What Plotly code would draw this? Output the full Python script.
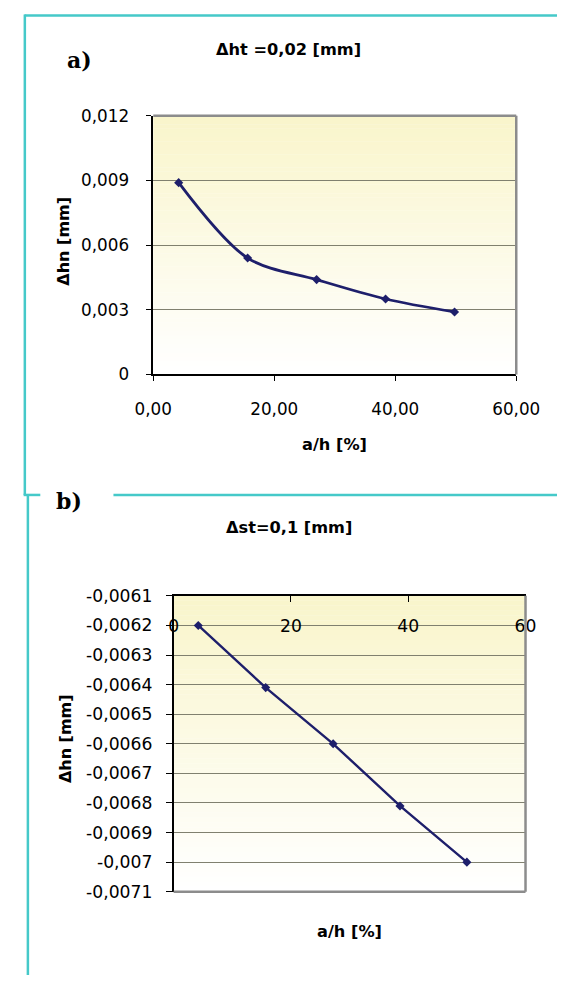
import plotly.graph_objects as go

# ---------------- data ----------------
x_a = [4.2, 15.6, 27.0, 38.4, 49.8]
y_a = [0.0089, 0.0054, 0.0044, 0.0035, 0.0029]

x_b = [4.2, 15.7, 27.2, 38.6, 50.0]
y_b = [-0.00620, -0.00641, -0.00660, -0.00681, -0.00700]

xticks_a_vals = [0, 20, 40, 60]
xticks_a_text = ["0,00", "20,00", "40,00", "60,00"]
yticks_a_vals = [0, 0.003, 0.006, 0.009, 0.012]
yticks_a_text = ["0", "0,003", "0,006", "0,009", "0,012"]

xticks_b_vals = [0, 20, 40, 60]
xticks_b_text = ["0", "20", "40", "60"]
yticks_b_vals = [-0.0071, -0.0070, -0.0069, -0.0068, -0.0067, -0.0066,
                 -0.0065, -0.0064, -0.0063, -0.0062, -0.0061]
yticks_b_text = ["-0,0071", "-0,007", "-0,0069", "-0,0068", "-0,0067", "-0,0066",
                 "-0,0065", "-0,0064", "-0,0063", "-0,0062", "-0,0061"]

title_a = "Δht =0,02 [mm]"
title_b = "Δst=0,1 [mm]"
ytitle = "Δhn [mm]"
xtitle = "a/h [%]"

# ---------------- style ----------------
W, H = 581, 985
NAVY = "#1e1f6b"
TEAL = "#45c9c9"
GRID = "#80806f"
BORDER = "#8c8c8c"
FONT = "DejaVu Sans, Arial, sans-serif"
SERIF = "DejaVu Serif, Times New Roman, serif"
TICKFONT = dict(family=FONT, size=16.8, color="black")
TICKFONT_B = dict(family=FONT, size=17.2, color="black")
TITLEFONT = dict(family=FONT, size=16.2, color="black", weight="bold")
YTITLEFONT = dict(family=FONT, size=16, color="black", weight="bold")


def px(x):
    return x / W


def py(y):
    return 1 - y / H


fig = go.Figure()
fig.add_trace(go.Scatter(
    x=x_a, y=y_a, mode="lines+markers", xaxis="x", yaxis="y",
    line=dict(color=NAVY, width=2.8, shape="spline", smoothing=0.9),
    marker=dict(symbol="diamond", size=7, color=NAVY),
    showlegend=False, hoverinfo="skip"))
fig.add_trace(go.Scatter(
    x=x_b, y=y_b, mode="lines+markers", xaxis="x2", yaxis="y2",
    line=dict(color=NAVY, width=2.4),
    marker=dict(symbol="diamond", size=7, color=NAVY),
    showlegend=False, hoverinfo="skip"))

shapes = []
# gradient plot backgrounds
N = 60
top_rgb = (249, 245, 203)
for xr, yr in (("x domain", "y domain"), ("x2 domain", "y2 domain")):
    for i in range(N):
        t = i / (N - 1)
        c = tuple(round(top_rgb[k] + (255 - top_rgb[k]) * t) for k in range(3))
        shapes.append(dict(type="rect", xref=xr, yref=yr, x0=0, x1=1,
                           y0=1 - (i + 1) / N, y1=1 - i / N + 0.001,
                           fillcolor="rgb(%d,%d,%d)" % c, line=dict(width=0),
                           layer="below"))
# gray borders (top/right for a, right/bottom for b)
shapes += [
    dict(type="line", xref="x domain", yref="y domain", x0=0, x1=1, y0=1, y1=1,
         line=dict(color=BORDER, width=2.5)),
    dict(type="line", xref="x domain", yref="y domain", x0=1, x1=1, y0=0, y1=1,
         line=dict(color=BORDER, width=2.5)),
    dict(type="line", xref="x2 domain", yref="y2 domain", x0=1, x1=1, y0=0, y1=1,
         line=dict(color=BORDER, width=2.5)),
    dict(type="line", xref="x2 domain", yref="y2 domain", x0=0, x1=1, y0=0, y1=0,
         line=dict(color=BORDER, width=2.5)),
]
# teal frames
shapes += [
    dict(type="line", xref="paper", yref="paper", x0=px(6), x1=1.0, y0=py(5.5), y1=py(5.5),
         line=dict(color=TEAL, width=2.5)),
    dict(type="line", xref="paper", yref="paper", x0=px(6.3), x1=px(6.3), y0=py(4.5), y1=py(495),
         line=dict(color=TEAL, width=2.5)),
    dict(type="line", xref="paper", yref="paper", x0=px(5), x1=px(23), y0=py(495), y1=py(495),
         line=dict(color=TEAL, width=2.5)),
    dict(type="line", xref="paper", yref="paper", x0=px(102), x1=1.0, y0=py(495), y1=py(495),
         line=dict(color=TEAL, width=2.5)),
    dict(type="line", xref="paper", yref="paper", x0=px(9.6), x1=px(9.6), y0=py(495), y1=0,
         line=dict(color=TEAL, width=2.5)),
]

annotations = [
    dict(text=title_a, x=px(291), y=py(40), xref="paper", yref="paper",
         showarrow=False, font=TITLEFONT, xanchor="center", yanchor="middle"),
    dict(text="a)", x=px(65), y=py(51), xref="paper", yref="paper",
         showarrow=False, font=dict(family=SERIF, size=22, color="black", weight="bold"),
         xanchor="center", yanchor="middle"),
    dict(text=ytitle, x=px(48), y=py(236), xref="paper", yref="paper", textangle=-90,
         showarrow=False, font=YTITLEFONT, xanchor="center", yanchor="middle"),
    dict(text=xtitle, x=px(341), y=py(444), xref="paper", yref="paper",
         showarrow=False, font=TITLEFONT, xanchor="center", yanchor="middle"),
    dict(text=title_b, x=px(292), y=py(528), xref="paper", yref="paper",
         showarrow=False, font=TITLEFONT, xanchor="center", yanchor="middle"),
    dict(text="b)", x=px(54), y=py(501), xref="paper", yref="paper",
         showarrow=False, font=dict(family=SERIF, size=22, color="black", weight="bold"),
         xanchor="center", yanchor="middle"),
    dict(text=ytitle, x=px(51), y=py(744), xref="paper", yref="paper", textangle=-90,
         showarrow=False, font=YTITLEFONT, xanchor="center", yanchor="middle"),
    dict(text=xtitle, x=px(357), y=py(941), xref="paper", yref="paper",
         showarrow=False, font=TITLEFONT, xanchor="center", yanchor="middle"),
]

fig.update_layout(
    width=W, height=H, margin=dict(l=0, r=0, t=0, b=0),
    paper_bgcolor="white", plot_bgcolor="white", showlegend=False,
    font=dict(family=FONT, color="black"),
    xaxis=dict(domain=[px(145), px(537)], anchor="y", range=[0, 60],
               tickvals=xticks_a_vals, ticktext=xticks_a_text, tickfont=TICKFONT,
               ticks="outside", ticklen=5, tickcolor="black", tickwidth=1,
               ticklabelstandoff=14,
               showline=True, linecolor="black", linewidth=1.6,
               showgrid=False, zeroline=False),
    yaxis=dict(domain=[py(372), py(108)], anchor="x", range=[0, 0.012],
               tickvals=yticks_a_vals, ticktext=yticks_a_text, tickfont=TICKFONT,
               ticks="outside", ticklen=5, tickcolor="black", tickwidth=1,
               ticklabelstandoff=14,
               showline=True, linecolor="black", linewidth=1.6,
               showgrid=True, gridcolor=GRID, gridwidth=1, zeroline=False),
    xaxis2=dict(domain=[px(167), px(547)], anchor="y2", side="top", range=[0, 60],
                tickvals=xticks_b_vals, ticktext=xticks_b_text, tickfont=TICKFONT_B,
                ticks="inside", ticklen=6, tickcolor="black",
                ticklabelposition="inside", ticklabeloverflow="allow",
                ticklabelstandoff=19,
                showline=True, linecolor="black", linewidth=1.6,
                showgrid=False, zeroline=False),
    yaxis2=dict(domain=[py(900), py(598)], anchor="x2", range=[-0.0071, -0.0061],
                tickvals=yticks_b_vals, ticktext=yticks_b_text, tickfont=TICKFONT_B,
                ticks="outside", ticklen=6, tickcolor="black", tickwidth=1,
                ticklabelstandoff=10,
                showline=True, linecolor="black", linewidth=1.6,
                showgrid=True, gridcolor=GRID, gridwidth=1, zeroline=False),
    shapes=shapes, annotations=annotations,
)

fig.write_html(
    "out.html",
    config={"displayModeBar": False},
    post_script="document.body.style.margin='0';document.body.style.overflow='hidden';",
)
